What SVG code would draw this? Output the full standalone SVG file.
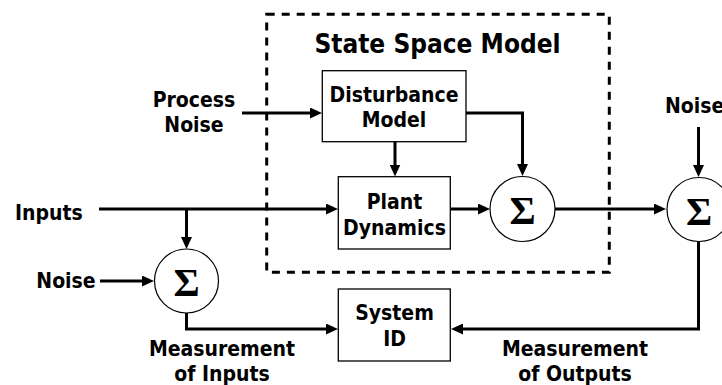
<svg xmlns="http://www.w3.org/2000/svg" width="722" height="385" viewBox="0 0 722 385">
  <style>
    .lbl { font-family: "DejaVu Sans Condensed", "DejaVu Sans", "Liberation Sans", sans-serif; font-stretch: condensed; font-weight: bold; font-size: 21px; fill: #000; }
    .title { font-size: 26px; }
    .sig { font-family: "Liberation Serif", "Times New Roman", serif; font-weight: bold; font-size: 40px; fill: #000; }
    .box { fill: #fff; stroke: #000; stroke-width: 1.3; }
    .sum { fill: #fff; stroke: #000; stroke-width: 1.2; }
    .wire { fill: none; stroke: #000; stroke-width: 3; }
    .frame { fill: none; stroke: #000; stroke-width: 3; stroke-dasharray: 8 7; }
  </style>
  <defs>
    <marker id="arrow" markerUnits="userSpaceOnUse" markerWidth="12" markerHeight="11" refX="6" refY="5.5" orient="auto">
      <path d="M0,0 L12,5.5 L0,11 z" fill="#000"/>
    </marker>
  </defs>

  <rect width="722" height="385" fill="#fff"/>

  <!-- state space model boundary -->
  <g id="state-space-model">
    <rect class="frame" x="266.7" y="14.3" width="342.6" height="258"/>
    <text class="lbl title" x="437.5" y="53" text-anchor="middle">State Space Model</text>
  </g>

  <!-- connectors -->
  <g id="connectors">
    <path class="wire" d="M242,113 H316" marker-end="url(#arrow)"/>
    <path class="wire" d="M466,113 H522.5 V170" marker-end="url(#arrow)"/>
    <path class="wire" d="M395,142 V170.5" marker-end="url(#arrow)"/>
    <path class="wire" d="M99,209 H332" marker-end="url(#arrow)"/>
    <path class="wire" d="M186.5,209 V243" marker-end="url(#arrow)"/>
    <path class="wire" d="M451,209 H484" marker-end="url(#arrow)"/>
    <path class="wire" d="M555,209 H660" marker-end="url(#arrow)"/>
    <path class="wire" d="M698.5,127 V171" marker-end="url(#arrow)"/>
    <path class="wire" d="M698.5,241.5 V329 H457" marker-end="url(#arrow)"/>
    <path class="wire" d="M100,281 H148" marker-end="url(#arrow)"/>
    <path class="wire" d="M186.5,313 V329 H332" marker-end="url(#arrow)"/>
  </g>

  <!-- blocks -->
  <g id="disturbance-model">
    <rect class="box" x="322.3" y="70.7" width="143.7" height="71"/>
    <text class="lbl" x="394" y="101.7" text-anchor="middle">Disturbance</text>
    <text class="lbl" x="394" y="126.7" text-anchor="middle">Model</text>
  </g>
  <g id="plant-dynamics">
    <rect class="box" x="338.3" y="176.7" width="112" height="72.3"/>
    <text class="lbl" x="394.5" y="209" text-anchor="middle">Plant</text>
    <text class="lbl" x="394.5" y="235" text-anchor="middle">Dynamics</text>
  </g>
  <g id="system-id">
    <rect class="box" x="338.3" y="289" width="112" height="72"/>
    <text class="lbl" x="394.5" y="320" text-anchor="middle">System</text>
    <text class="lbl" x="394.5" y="346" text-anchor="middle">ID</text>
  </g>

  <!-- summing junctions -->
  <g id="sum-process">
    <circle class="sum" cx="522.5" cy="209" r="32.5"/>
    <text class="sig" x="522.5" y="224" text-anchor="middle">Σ</text>
  </g>
  <g id="sum-output">
    <circle class="sum" cx="699" cy="209.5" r="32"/>
    <text class="sig" x="699" y="224.5" text-anchor="middle">Σ</text>
  </g>
  <g id="sum-input">
    <circle class="sum" cx="186.5" cy="281" r="32"/>
    <text class="sig" x="186.5" y="296" text-anchor="middle">Σ</text>
  </g>

  <!-- signal labels -->
  <g id="process-noise">
    <text class="lbl" x="194" y="106.7" text-anchor="middle">Process</text>
    <text class="lbl" x="194" y="131.7" text-anchor="middle">Noise</text>
  </g>
  <g id="output-noise">
    <text class="lbl" x="665" y="113.3">Noise</text>
  </g>
  <g id="inputs">
    <text class="lbl" x="15" y="219.7">Inputs</text>
  </g>
  <g id="input-noise">
    <text class="lbl" x="66" y="288" text-anchor="middle">Noise</text>
  </g>
  <g id="measured-inputs">
    <text class="lbl" x="222" y="356.3" text-anchor="middle">Measurement</text>
    <text class="lbl" x="222" y="380.7" text-anchor="middle">of Inputs</text>
  </g>
  <g id="measured-outputs">
    <text class="lbl" x="575" y="356.3" text-anchor="middle">Measurement</text>
    <text class="lbl" x="575" y="380.7" text-anchor="middle">of Outputs</text>
  </g>
</svg>
